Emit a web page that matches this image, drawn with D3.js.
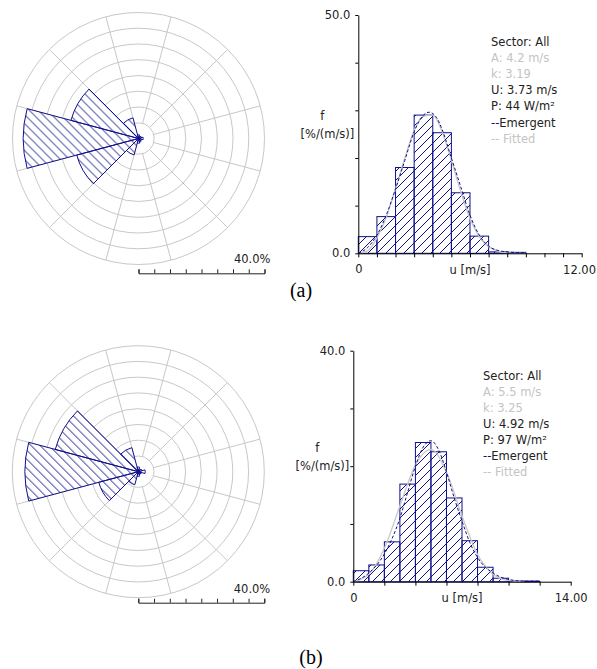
<!DOCTYPE html>
<html>
<head>
<meta charset="utf-8">
<script src="https://cdn.jsdelivr.net/npm/d3@7"></script>
<style>
body { margin: 0; background: #fff; }
svg { display: block; }
</style>
</head>
<body>
<svg id="fig" width="597" height="669"></svg>
<script>
// sector centres (deg, clockwise from north) and frequencies [%]
const sectors = [0, 30, 60, 90, 120, 150, 180, 210, 240, 270, 300, 330];
const rose_a = [1.2, 0.8, 1.0, 1.5, 1.0, 1.2, 1.5, 5.4, 20.3, 36.6, 22.2, 6.8];
const rose_b = [1.5, 1.0, 1.2, 2.2, 1.0, 1.0, 1.5, 4.3, 13.0, 36.0, 27.3, 7.9];
const rose_rings = [5, 10, 15, 20, 25, 30, 35, 40];

// histogram bins (1 m/s wide) [%/(m/s)]
const hist_a = [3.5, 7.7, 18.0, 29.0, 25.3, 12.7, 3.6, 0.3, 0.2, 0, 0, 0];
const hist_b = [1.9, 2.9, 6.9, 16.9, 24.1, 22.5, 14.5, 7.1, 2.5, 0.6, 0.1, 0.1, 0, 0];

// curves: [u, f]
const emerg_a = [[0, 0], [0.5, 1.2], [1, 3.8], [1.5, 8], [2, 13.5], [2.5, 19.5], [3, 25.5], [3.5, 29],
                 [3.8, 29.6], [4.2, 28.5], [4.5, 26], [5, 20], [5.5, 14], [6, 8], [6.5, 3.8], [7, 1.5],
                 [7.5, 0.6], [8, 0.3], [9, 0.1]];
const fit_a = [[0, 0], [0.5, 0.5], [1, 3.2], [1.5, 7.5], [2, 13.6], [2.5, 20], [3, 25.8], [3.5, 28.8],
               [4, 29], [4.5, 25.5], [5, 19.5], [5.5, 13], [6, 7.3], [6.5, 3.5], [7, 1.4], [8, 0.1], [9, 0]];
const emerg_b = [[0, 0], [1, 1.5], [2, 4.8], [3, 11], [3.5, 15.5], [4, 20], [4.5, 23.3], [5, 24.4],
                 [5.5, 22.8], [6, 19], [6.5, 14.5], [7, 10.5], [7.5, 6.8], [8, 4.2], [9, 1.5], [10, 0.4],
                 [11, 0.1], [12, 0.1]];
const fit_b = [[0, 0], [1, 1.3], [2, 5.8], [3, 13.1], [4, 20.2], [5, 22.9], [6, 19.0], [7, 11.4],
               [8, 4.7], [9, 1.3], [10, 0.2], [11, 0]];

const legend_a = ["Sector: All", "A: 4.2 m/s", "k: 3.19", "U: 3.73 m/s", "P: 44 W/m²", "Emergent", "Fitted"];
const legend_b = ["Sector: All", "A: 5.5 m/s", "k: 3.25", "U: 4.92 m/s", "P: 97 W/m²", "Emergent", "Fitted"];

const navy = "#10108a", grid = "#c8c8c8", pale = "#c4c4c4", ink = "#222";
const fs = 11.5; // small text size
const svg = d3.select("#fig");
svg.append("rect").attr("width", 597).attr("height", 669).attr("fill", "#fff");

// hatch patterns
const defs = svg.append("defs");
defs.append("pattern").attr("id", "hatch_rose").attr("patternUnits", "userSpaceOnUse")
    .attr("width", 9).attr("height", 9)
    .append("path").attr("d", "M0,0L9,9M-3,6L3,12M6,-3L12,3")
    .attr("stroke", navy).attr("stroke-width", 1).attr("fill", "none");
defs.append("pattern").attr("id", "hatch_hist").attr("patternUnits", "userSpaceOnUse")
    .attr("width", 9).attr("height", 9)
    .append("path").attr("d", "M0,9L9,0M-3,3L3,-3M6,12L12,6")
    .attr("stroke", navy).attr("stroke-width", 1).attr("fill", "none");

function label(x, y, s, anchor, color) {
    return svg.append("text").attr("x", x).attr("y", y).attr("text-anchor", anchor || "start")
        .style("font-family", "'DejaVu Sans', sans-serif").style("font-size", fs + "px")
        .attr("fill", color || ink).text(s);
}

function draw_rose(cx, cy, vals, bar_y) {
    var R = 126;
    var r = d3.scaleLinear().domain([0, 40]).range([0, R]);
    var g = svg.append("g").attr("transform", "translate(" + cx + "," + cy + ")");
    g.selectAll(".ring").data(rose_rings).join("circle").classed("ring", true)
        .attr("r", d => r(d)).attr("fill", "none").attr("stroke", grid);
    g.selectAll(".spoke").data(sectors).join("line").classed("spoke", true)
        .attr("x1", d => r(5) * Math.sin((d + 15) * Math.PI / 180))
        .attr("y1", d => -r(5) * Math.cos((d + 15) * Math.PI / 180))
        .attr("x2", d => R * Math.sin((d + 15) * Math.PI / 180))
        .attr("y2", d => -R * Math.cos((d + 15) * Math.PI / 180))
        .attr("stroke", grid);
    var arc = d3.arc().innerRadius(0)
        .outerRadius(d => r(d.v))
        .startAngle(d => (d.dir - 15) * Math.PI / 180)
        .endAngle(d => (d.dir + 15) * Math.PI / 180);
    var data = sectors.map((s, i) => ({ dir: s, v: vals[i] }));
    g.selectAll(".bg").data(data).join("path").classed("bg", true).attr("d", arc).attr("fill", "#fff");
    g.selectAll(".wedge").data(data).join("path").classed("wedge", true)
        .attr("d", arc).attr("fill", "url(#hatch_rose)")
        .attr("stroke", navy).attr("stroke-width", 1);

    // scale bar
    var sb = d3.scaleLinear().domain([0, 40]).range([cx, cx + R]);
    svg.append("g").attr("transform", "translate(0," + bar_y + ")")
        .call(d3.axisTop(sb).tickValues(d3.range(0, 45, 5)).tickSize(4).tickSizeOuter(4).tickFormat(""))
        .call(a => a.selectAll("path,line").attr("stroke", ink));
    label(cx + R + 6, bar_y - 10, "40.0%", "end");
}

function draw_hist(ox, oy, w, h, ymax, xmax, xstep, bins, emerg, fit, legend, lx, ly) {
    var x = d3.scaleLinear().domain([0, xmax]).range([ox, ox + w]);
    var y = d3.scaleLinear().domain([0, ymax]).range([oy, oy - h]);
    var g = svg.append("g");

    var bars = bins.map((v, i) => ({ u0: i, u1: i + 1, v: v })).filter(d => d.v > 0);
    g.selectAll(".bar").data(bars).join("rect").classed("bar", true)
        .attr("x", d => x(d.u0)).attr("y", d => y(d.v))
        .attr("width", d => x(d.u1) - x(d.u0)).attr("height", d => y(0) - y(d.v))
        .attr("fill", "url(#hatch_hist)").attr("stroke", navy).attr("stroke-width", 1);

    var line = d3.line().x(d => x(d[0])).y(d => y(d[1])).curve(d3.curveMonotoneX);
    g.append("path").attr("d", line(fit)).attr("fill", "none")
        .attr("stroke", grid).attr("stroke-width", 1.3);
    g.append("path").attr("d", line(emerg)).attr("fill", "none")
        .attr("stroke", navy).attr("stroke-width", 1).attr("stroke-dasharray", "3,2");

    // axes
    svg.append("g").attr("transform", "translate(" + ox + ",0)")
        .call(d3.axisLeft(y).tickValues(d3.range(0, ymax + 1, 10)).tickSize(3).tickSizeOuter(0).tickPadding(5)
            .tickFormat(d => (d === 0 || d === ymax) ? d.toFixed(1) : ""))
        .call(a => a.selectAll("path,line").attr("stroke", "#000"))
        .call(a => a.selectAll("text").style("font-size", fs + "px")
            .style("font-family", "'DejaVu Sans', sans-serif").attr("fill", ink));
    svg.append("g").attr("transform", "translate(0," + oy + ")")
        .call(d3.axisBottom(x).tickValues(d3.range(0, xmax + 0.1, xstep)).tickSize(4).tickSizeOuter(0).tickPadding(8)
            .tickFormat(d => d === 0 ? "0" : ""))
        .call(a => a.selectAll("path,line").attr("stroke", "#000"))
        .call(a => a.selectAll("text").style("font-size", fs + "px")
            .style("font-family", "'DejaVu Sans', sans-serif").attr("fill", ink));
    label(Math.min(ox + w + 17, 596), oy + 20.5, xmax.toFixed(2), "end");
    label(ox + w / 2, oy + 20.5, "u [m/s]", "middle");

    // y label
    var ymid = oy - h * 0.56;
    label(ox - 36, ymid, "f", "middle");
    label(ox - 4, ymid + 18, "[%/(m/s)]", "end");

    // legend
    var colors = [ink, pale, pale, ink, ink, ink, pale];
    legend.forEach(function (s, i) {
        var t = label(lx, ly + i * 16.1, "", "start", colors[i]);
        if (i === 5) {
            t.append("tspan").attr("fill", navy).text("--");
            t.append("tspan").text(s);
        } else if (i === 6) {
            t.text("-- " + s);
        } else {
            t.text(s);
        }
    });
}

draw_rose(138.5, 138.5, rose_a, 273.3);
draw_rose(138.3, 471.7, rose_b, 602.7);
draw_hist(358.3, 253.3, 223.4, 238.3, 50, 12, 1, hist_a, emerg_a, fit_a, legend_a, 491, 46);
draw_hist(353.3, 581.7, 217.4, 231, 40, 14, 2, hist_b, emerg_b, fit_b, legend_b, 483, 379.5);

// captions
svg.append("text").attr("x", 301).attr("y", 297).attr("text-anchor", "middle")
    .style("font-family", "'Liberation Serif', serif").style("font-size", "20px").attr("fill", "#000").text("(a)");
svg.append("text").attr("x", 311).attr("y", 664).attr("text-anchor", "middle")
    .style("font-family", "'Liberation Serif', serif").style("font-size", "20px").attr("fill", "#000").text("(b)");
</script>
</body>
</html>
